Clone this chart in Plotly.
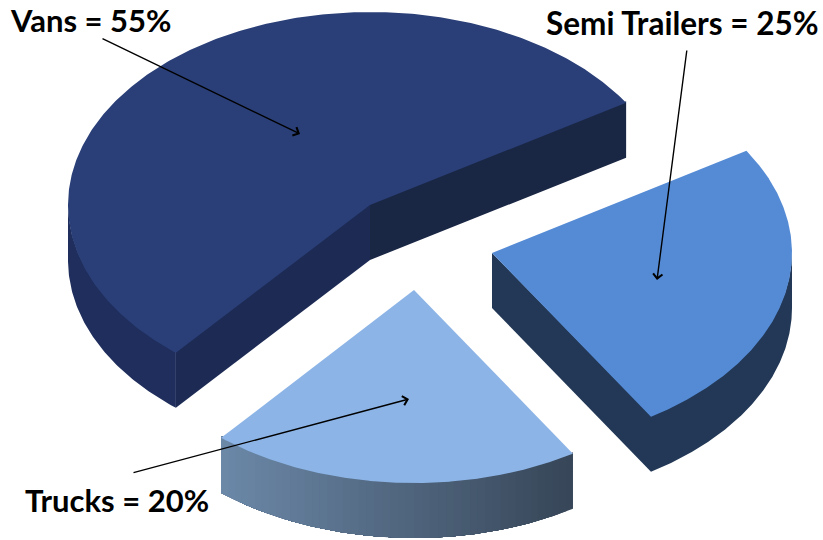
import numpy as np
import plotly.graph_objects as go

# ---- data ----
categories = ["Semi Trailers", "Trucks", "Vans"]
shares = [25, 20, 55]

# ---- styles / layout ----
START_DEG = 32.0           # ellipse parameter where the first slice starts (clockwise)
RY, DEPTH = 193.0, 55.0
radius_x = {"Semi Trailers": 300.0, "Trucks": 300.0, "Vans": 302.0}
apexes = {"Semi Trailers": (492, 253), "Trucks": (414, 290), "Vans": (370, 205)}
top_col = {"Semi Trailers": "#558bd5", "Trucks": "#8cb4e6", "Vans": "#2a3f77"}
wall_left = {"Semi Trailers": "#223856", "Trucks": "#6c89a9", "Vans": "#1f2e5c"}
wall_right = {"Semi Trailers": "#223856", "Trucks": "#374658", "Vans": "#1f2e5c"}
cut_col = {"Semi Trailers": "#223856", "Trucks": "#374658", "Vans": "#1c2a54"}
cut2_col = "#192644"
label_pos = {"Semi Trailers": (544, 23), "Trucks": (23, 500), "Vans": (8, 20)}
label_size = {"Semi Trailers": 31.5, "Trucks": 31, "Vans": 31}
arrow_tail = {"Semi Trailers": (687, 49), "Trucks": (132, 473), "Vans": (101, 38)}
arrow_head = {"Semi Trailers": (657, 280), "Trucks": (409, 399), "Vans": (300, 134)}
OVERLAP = 1.5   # walls reach slightly under the top face so no background shows at the joint


def rim(apex, deg, rx):
    t = np.radians(deg)
    return apex[0] + rx * np.cos(t), apex[1] - RY * np.sin(t)


def hexmix(a, b, f):
    ca = [int(a[i:i + 2], 16) for i in (1, 3, 5)]
    cb = [int(b[i:i + 2], 16) for i in (1, 3, 5)]
    return "#%02x%02x%02x" % tuple(round(x + (y - x) * f) for x, y in zip(ca, cb))


fig = go.Figure()


def poly(xs, ys, color):
    fig.add_trace(go.Scatter(x=list(xs), y=list(ys), mode="lines", fill="toself",
                             fillcolor=color, line=dict(color=color, width=0),
                             hoverinfo="skip", showlegend=False))


angle = START_DEG
for cat, share in zip(categories, shares):
    a0, a1 = angle, angle - share * 3.6   # clockwise on the ellipse
    angle = a1
    apex = apexes[cat]
    rx = radius_x[cat]
    p0, p1 = rim(apex, a0, rx), rim(apex, a1, rx)

    # outer wall: the part of the rim on the front half of the ellipse.
    # Each band runs to the far end of the wall and is painted over by the next,
    # so the gradient has no seams.
    degs = np.linspace(a0, a1, 361)
    front = degs[np.sin(np.radians(degs)) <= 0.0]
    pts = [rim(apex, d, rx) for d in front]
    px = [p[0] for p in pts]
    py = [p[1] for p in pts]
    xmin, xmax = min(px), max(px)
    n_bands = 1 if wall_left[cat] == wall_right[cat] else 48
    for i in np.linspace(0, len(pts) - 2, n_bands).astype(int):
        f = (px[i] - xmin) / (xmax - xmin)
        poly(px[i:] + px[i:][::-1],
             [y - OVERLAP for y in py[i:]] + [y + DEPTH for y in py[i:][::-1]],
             hexmix(wall_left[cat], wall_right[cat], f))

    # cut faces (only those facing the viewer)
    if cat == "Vans":
        for p, col in ((p0, cut_col[cat]), (p1, cut2_col)):
            poly([apex[0], p[0], p[0], apex[0]],
                 [apex[1] - OVERLAP, p[1] - OVERLAP, p[1] + DEPTH, apex[1] + DEPTH], col)
    if cat == "Semi Trailers":
        poly([apex[0], p1[0], p1[0], apex[0]],
             [apex[1], p1[1] - OVERLAP, p1[1] + DEPTH, apex[1] + DEPTH], cut_col[cat])

    # top face
    xs, ys = zip(*[rim(apex, d, rx) for d in np.linspace(a0, a1, 361)])
    poly([apex[0], *xs, apex[0]], [apex[1], *ys, apex[1]], top_col[cat])

for cat, share in zip(categories, shares):
    tx, ty = label_pos[cat]
    fig.add_annotation(x=tx, y=ty, text=f"<b>{cat} = {share}%</b>", showarrow=False,
                       xanchor="left", yanchor="middle", xref="x", yref="y",
                       font=dict(family="Lato", size=label_size[cat], color="#000000"))
    hx, hy = arrow_head[cat]
    ax, ay = arrow_tail[cat]
    fig.add_annotation(x=hx, y=hy, ax=ax, ay=ay, xref="x", yref="y", axref="x", ayref="y",
                       text="", showarrow=True, arrowhead=4, arrowsize=1.3,
                       arrowwidth=1.4, arrowcolor="#000000")

fig.update_layout(width=823, height=540, margin=dict(l=0, r=0, t=0, b=0),
                  paper_bgcolor="white", plot_bgcolor="white", showlegend=False,
                  xaxis=dict(range=[0, 823], visible=False, fixedrange=True),
                  yaxis=dict(range=[540, 0], visible=False, fixedrange=True))

fig.write_html("out.html", post_script="document.body.style.margin='0';",
               config=dict(displayModeBar=False))
